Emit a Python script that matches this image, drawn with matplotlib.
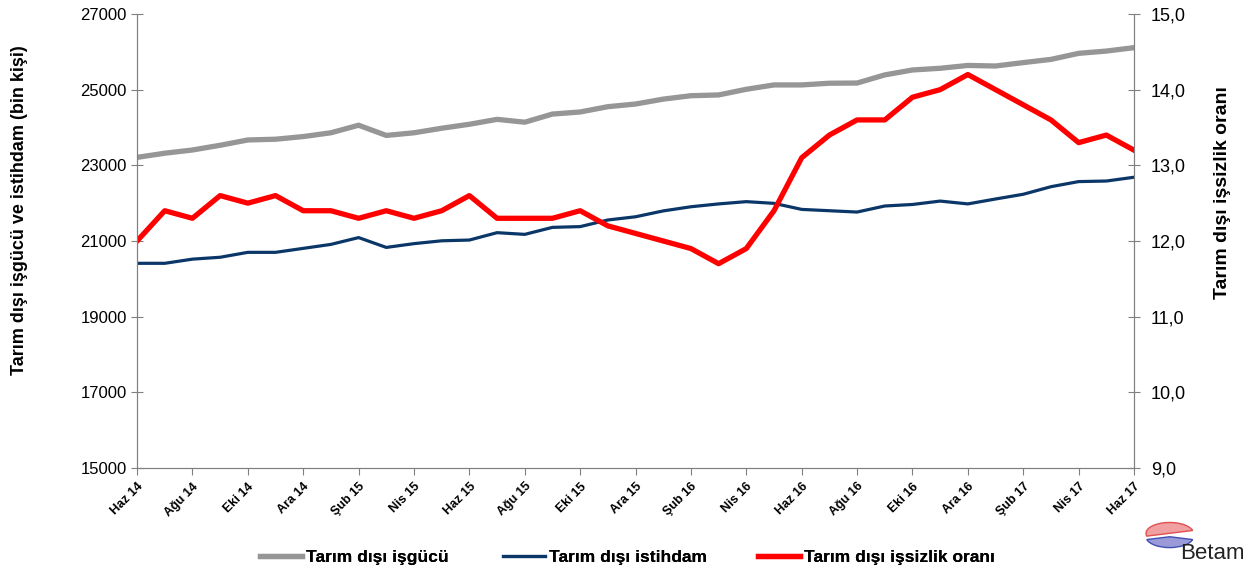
import numpy as np
import matplotlib
matplotlib.use("Agg")
from matplotlib import pyplot as plt
from matplotlib.patches import Wedge

plt.rcParams["font.family"] = ["Liberation Sans", "DejaVu Sans"]

months = ["Haz", "Tem", "Ağu", "Eyl", "Eki", "Kas", "Ara", "Oca", "Şub", "Mar", "Nis", "May"]
labels = []
for k in range(37):
    yr = 14 + (5 + k) // 12
    labels.append(f"{months[k % 12]} {yr}")

isgucu = [23210, 23320, 23405, 23530, 23670, 23690, 23760, 23860, 24060, 23790,
          23860, 23980, 24085, 24215, 24140, 24355, 24410, 24550, 24620, 24750,
          24840, 24860, 25010, 25125, 25125, 25170, 25175, 25390, 25520, 25565,
          25640, 25625, 25715, 25800, 25960, 26020, 26110]
istihdam = [20410, 20410, 20520, 20570, 20700, 20700, 20805, 20910, 21090, 20830,
            20930, 21005, 21025, 21220, 21175, 21360, 21380, 21555, 21640, 21795,
            21905, 21980, 22040, 21995, 21835, 21800, 21765, 21925, 21965, 22055,
            21980, 22110, 22235, 22435, 22570, 22585, 22685]
issizlik = [12.0, 12.4, 12.3, 12.6, 12.5, 12.6, 12.4, 12.4, 12.3, 12.4,
            12.3, 12.4, 12.6, 12.3, 12.3, 12.3, 12.4, 12.2, 12.1, 12.0,
            11.9, 11.7, 11.9, 12.4, 13.1, 13.4, 13.6, 13.6, 13.9, 14.0,
            14.2, 14.0, 13.8, 13.6, 13.3, 13.4, 13.2]

x = np.arange(len(labels))

fig = plt.figure(figsize=(12.47, 5.71), dpi=100)
ax = fig.add_axes([0.1099, 0.1804, 0.7995, 0.7951])
ax2 = ax.twinx()

l1, = ax.plot(x, isgucu, color="#969696", lw=3.8, label="Tarım dışı işgücü")
l2, = ax.plot(x, istihdam, color="#0b3768", lw=2.3, label="Tarım dışı istihdam")
l3, = ax2.plot(x, issizlik, color="#ff0000", lw=3.8, label="Tarım dışı işsizlik oranı")

ax.set_xlim(0, 36)
ax.set_ylim(15000, 27000)
ax.set_yticks(np.arange(15000, 27001, 2000))
ax2.set_ylim(9.0, 15.0)
ax2.set_yticks(np.arange(9, 15.01, 1))
ax2.set_yticklabels([f"{v:.1f}".replace(".", ",") for v in np.arange(9, 15.01, 1)])

ax.set_xticks(x[::2])
ax.set_xticklabels(labels[::2], rotation=45, ha="right", rotation_mode="anchor",
                   fontsize=9, fontweight="bold")

for a in (ax, ax2):
    a.spines["top"].set_visible(False)
    for s in ("left", "right", "bottom"):
        a.spines[s].set_color("#808080")
ax.tick_params(axis="y", direction="inout", length=8, color="#808080", labelsize=12)
ax2.tick_params(axis="y", direction="inout", length=8, color="#808080", labelsize=13, pad=8)
ax.tick_params(axis="x", direction="out", length=5, color="#808080", pad=4)

ax.set_ylabel("Tarım dışı işgücü ve istihdam (bin kişi)", fontsize=13, fontweight="bold")
ax2.set_ylabel("Tarım dışı işsizlik oranı", fontsize=14, fontweight="bold")
ax.yaxis.set_label_coords(-0.109, 0.568)
ax2.yaxis.set_label_coords(1.080, 0.606)

# legend: three separate entries to match the uneven spacing
legend_x = [0.2085, 0.4034, 0.6079]
for h, lx in zip([l1, l2, l3], legend_x):
    lg = fig.legend(handles=[h], loc="center left", bbox_to_anchor=(lx, 0.0245),
                    frameon=False, handlelength=2.4, handletextpad=0.25,
                    borderaxespad=0, borderpad=0, prop={"size": 12.5, "weight": "bold"})
    fig.add_artist(lg)

# Betam logo
fig.patches.append(Wedge((0.938, 0.066), 0.019, 15, 195, transform=fig.transFigure,
                         facecolor="#f0a0a0", edgecolor="#e05050", lw=1))
fig.patches.append(Wedge((0.938, 0.060), 0.019, 195, 345, transform=fig.transFigure,
                         facecolor="#9a9ad8", edgecolor="#4050b0", lw=1))
fig.text(0.998, 0.012, "Betam", fontsize=16, color="#222222", ha="right", va="bottom")

fig.savefig("out.png", dpi=100)
